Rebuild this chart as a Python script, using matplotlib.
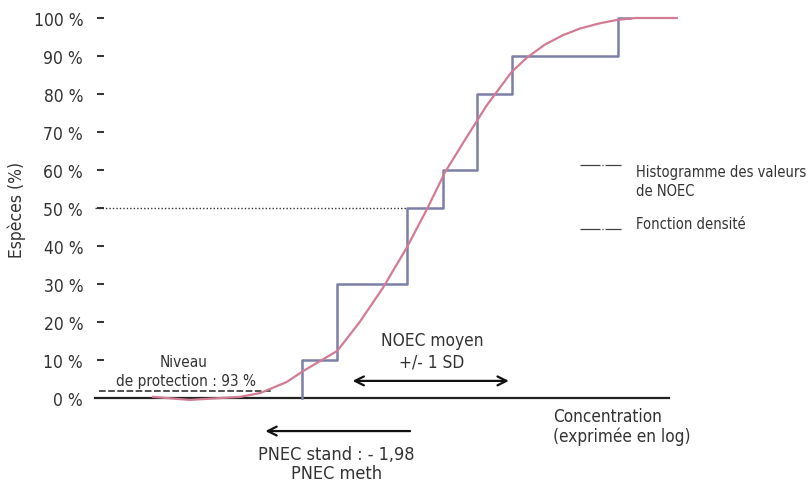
import matplotlib
matplotlib.use('Agg')
import matplotlib.pyplot as plt

# concentration in log units (mean NOEC = 0, 1 unit = 1 SD)
noec_values = [-1.51, -1.08, -0.24, 0.19, 0.60, 1.02, 2.30]
noec_cum = [10, 30, 50, 60, 80, 90, 100]
step_start = -1.51
step_end = 2.45

curve_x = [-3.30, -2.86, -2.25, -2.01, -1.69, -1.49, -1.08, -0.81, -0.53, -0.24,
           0.00, 0.22, 0.46, 0.72, 1.02, 1.20, 1.42, 1.64, 1.84, 2.08, 2.29, 2.51, 3.01]
curve_y = [0.3, -0.5, 0.3, 1.3, 4.2, 7.1, 12.4, 20.0, 29.0, 39.7,
           49.7, 59.5, 68.0, 77.0, 85.8, 89.5, 93.0, 95.5, 97.2, 98.6, 99.5, 100.0, 100.0]

yticks = list(range(0, 101, 10))
ytick_labels = ['%d %%' % v for v in yticks]

pnec = -1.98
protection = 1.8
sd_low, sd_high = -0.93, 1.02

plt.rcParams['font.family'] = ['DejaVu Sans']
plt.rcParams['font.stretch'] = 'condensed'

txt = '#333333'
step_col = '#7c7fa6'
curve_col = '#d27b92'

fig = plt.figure(figsize=(8.1, 4.85), dpi=100)
ax = fig.add_axes([104 / 810, 0, 706 / 810, 1])
ax.set_xlim(-3.89, 4.614)
ax.set_ylim(-22.63, 105)

# step histogram (cumulative)
sx = [step_start]
sy = [0]
prev = 0
for v, c in zip(noec_values, noec_cum):
    sx += [v, v]
    sy += [prev, c]
    prev = c
sx.append(step_end)
sy.append(prev)
ax.plot(sx, sy, color=step_col, lw=1.8, zorder=3)

# density function (fitted curve)
ax.plot(curve_x, curve_y, color=curve_col, lw=1.6, zorder=4)

# concentration axis
ax.plot([-4.0, 2.92], [0, 0], color='#222222', lw=1.6, clip_on=False, zorder=2)

# 50 % dotted line
ax.plot([-4.0, noec_values[2]], [50, 50], color='#333333', lw=1.0,
        linestyle=(0, (1, 1.5)), clip_on=False)

# protection level
ax.plot([-3.95, pnec + 0.1], [protection, protection], color='#333333', lw=1.2,
        linestyle=(0, (4, 1.5)), clip_on=False)
ax.text(-2.93, 9.5, 'Niveau', ha='center', va='center', fontsize=11, color=txt)
ax.text(-2.90, 4.5, 'de protection : 93 %', ha='center', va='center', fontsize=11, color=txt)

# NOEC moyen +/- 1 SD
ax.annotate('', xy=(sd_low, 4.5), xytext=(sd_high, 4.5),
            arrowprops=dict(arrowstyle='<->', color='#111111', lw=1.6,
                            mutation_scale=16))
ax.text(0.06, 15.2, 'NOEC moyen', ha='center', va='center', fontsize=12.4, color=txt)
ax.text(0.06, 9.7, '+/- 1 SD', ha='center', va='center', fontsize=12.4, color=txt)

# PNEC arrow
ax.annotate('', xy=(pnec, -8.7), xytext=(-0.17, -8.7),
            arrowprops=dict(arrowstyle='->', color='#111111', lw=1.6,
                            mutation_scale=16))
ax.text(-1.09, -14.7, 'PNEC stand : - 1,98', ha='center', va='center', fontsize=13, color=txt)
ax.text(-1.09, -19.8, 'PNEC meth', ha='center', va='center', fontsize=13, color=txt)

# x axis caption
ax.text(1.52, -4.7, 'Concentration', ha='left', va='center', fontsize=12.3, color=txt)
ax.text(1.52, -10.0, '(exprimée en log)', ha='left', va='center', fontsize=12.3, color=txt)

# legend
ax.plot([1.84, 2.34], [61.3, 61.3], color='#444444', lw=0.9,
        linestyle=(0, (16, 1.5, 1, 1.5)))
ax.text(2.52, 59.5, 'Histogramme des valeurs', ha='left', va='center', fontsize=10.5, color=txt)
ax.text(2.52, 54.5, 'de NOEC', ha='left', va='center', fontsize=10.5, color=txt)
ax.plot([1.84, 2.34], [44.5, 44.5], color='#444444', lw=0.9,
        linestyle=(0, (16, 1.5, 1, 1.5)))
ax.text(2.52, 46.0, 'Fonction densité', ha='left', va='center', fontsize=10.5, color=txt)

# y axis
for s in ax.spines.values():
    s.set_visible(False)
ax.set_xticks([])
ax.set_yticks(yticks)
ax.set_yticklabels(ytick_labels, fontsize=12.5, color=txt)
ax.tick_params(axis='y', length=5, width=1.4, color='#333333', pad=10)

fig.text(17 / 810, 1 - 210 / 485, 'Espèces (%)', rotation=90, ha='center', va='center',
         fontsize=12.5, color=txt)

fig.savefig('out.png', dpi=100)
